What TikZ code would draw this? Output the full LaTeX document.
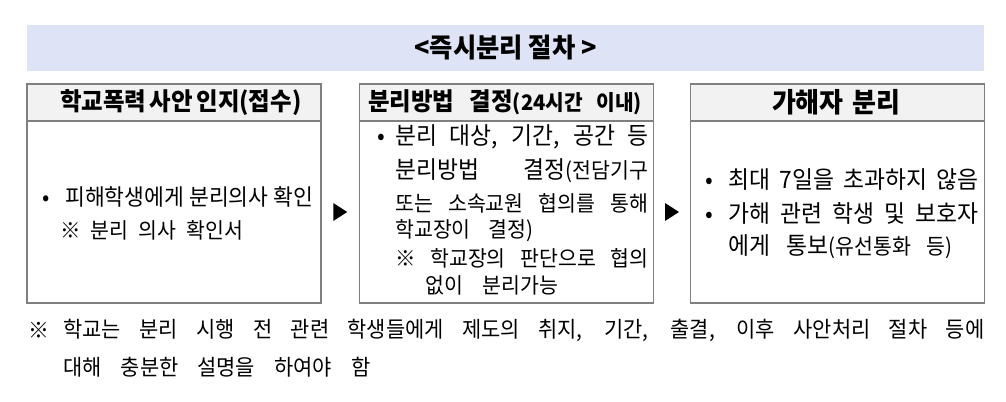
\documentclass[tikz,border=0pt]{standalone}
\usepackage{fontspec}
\setmainfont{Noto Sans CJK KR}[FakeStretch=0.95]
\usetikzlibrary{positioning,calc}
\definecolor{bannerblue}{HTML}{DEE4F5}
\definecolor{headgray}{HTML}{F2F2F2}
\definecolor{linegray}{HTML}{7F7F7F}
\newdimen\pxu \pxu=0.75pt
\newcommand{\jl}[2]{\makebox[#1\pxu][s]{#2}}
\newcommand{\fbody}{\fontsize{18pt}{21pt}\selectfont}
\newcommand{\fsmall}{\fontsize{16.2pt}{19pt}\selectfont}
\newcommand{\fhead}{\fontsize{18.5pt}{21pt}\selectfont\bfseries}
\newcommand{\fnote}{\fontsize{16.5pt}{19pt}\selectfont}

\begin{document}
\begin{tikzpicture}[x=0.75pt, y=-0.75pt,
    headbox/.style={draw=linegray, line width=1pt, fill=headgray, minimum width=220.5pt,
      minimum height=27.75pt, inner sep=0pt, outer sep=0pt},
    bodybox/.style={draw=linegray, line width=1pt, minimum width=220.5pt,
      minimum height=136.5pt, inner sep=0pt, outer sep=0pt, below=0pt of #1},
    txt/.style={anchor=west, inner sep=0pt}]
    \useasboundingbox (0,0) rectangle (1006,402);
    \node[fill=bannerblue, minimum width=717.75pt, minimum height=34.5pt, inner sep=0pt,
      font=\fontsize{20pt}{23pt}\selectfont\bfseries] (title) at (505.5,48) {<즉시분리 절차 >};
    % three steps
    \node[headbox] (h1) at (174,102.5) {};
    \node[headbox] (h2) at (506.5,102.5) {};
    \node[headbox] (h3) at (837.5,102.5) {};
    \node[bodybox=h1] (b1) {};
    \node[bodybox=h2] (b2) {};
    \node[bodybox=h3] (b3) {};
    \node[inner sep=0pt, font=\fhead] (l1) at (180,102.5) {\jl{240}{학교폭력 사안 인지(접수)}};
    \node[inner sep=0pt, font=\fhead] (l2) at (505,102.5) {\jl{274}{분리방법 결정{\fontsize{16pt}{18pt}\selectfont(24시간 이내)}}};
    \node[inner sep=0pt, font=\fontsize{20.5pt}{23pt}\selectfont\bfseries] (l3) at (836,102.5) {\jl{128}{가해자 분리}};
    % step 1
    \node[txt, font=\fontsize{17pt}{20pt}\selectfont] (t11) at (42,197) {\makebox[23\pxu][l]{•}\jl{248}{피해학생에게 분리의사 확인}};
    \node[txt, font=\fsmall] (t12) at (60,230) {\jl{183}{※ 분리 의사 확인서}};
    % step 2
    \node[txt, font=\fbody] (t21) at (377,137) {\makebox[18\pxu][l]{•}\jl{253}{분리 대상, 기간, 공간 등}};
    \node[txt, font=\fbody] (t22) at (395,171) {\jl{253}{분리방법 결정{\fsmall(전담기구}}};
    \node[txt, font=\fsmall] (t23) at (395,203) {\jl{253}{또는 소속교원 협의를 통해}};
    \node[txt, font=\fsmall] (t24) at (395,231) {\jl{138}{학교장이 결정)}};
    \node[txt, font=\fsmall] (t25) at (395,258) {\jl{253}{※ 학교장의 판단으로 협의}};
    \node[txt, font=\fsmall] (t26) at (425,285) {\jl{133}{없이 분리가능}};
    % step 3
    \node[txt, font=\fbody] (t31) at (705,180) {\makebox[23\pxu][l]{•}\jl{250}{최대 7일을 초과하지 않음}};
    \node[txt, font=\fbody] (t32) at (705,213) {\makebox[23\pxu][l]{•}\jl{250}{가해 관련 학생 및 보호자}};
    \node[txt, font=\fbody] (t33) at (728,247) {\jl{224}{에게 통보{\fsmall(유선통화 등)}}};
    % arrows between steps
    \coordinate (ar1) at ($(b1.east)!0.5!(b2.west)$);
    \coordinate (ar2) at ($(b2.east)!0.5!(b3.west)$);
    \fill (ar1) ++(-7,-9) -- ++(14,9) -- ++(-14,9) -- cycle;
    \fill (ar2) ++(-7,-9) -- ++(14,9) -- ++(-14,9) -- cycle;
    % note
    \node[txt, font=\fnote] (n0) at (28,330) {※};
    \node[txt, font=\fnote] (n1) at (63,330) {\jl{921}{학교는 분리 시행 전 관련 학생들에게 제도의 취지, 기간, 출결, 이후 사안처리 절차 등에}};
    \node[txt, font=\fnote] (n2) at (63,367) {\jl{307}{대해 충분한 설명을 하여야 함}};
\end{tikzpicture}
\end{document}
